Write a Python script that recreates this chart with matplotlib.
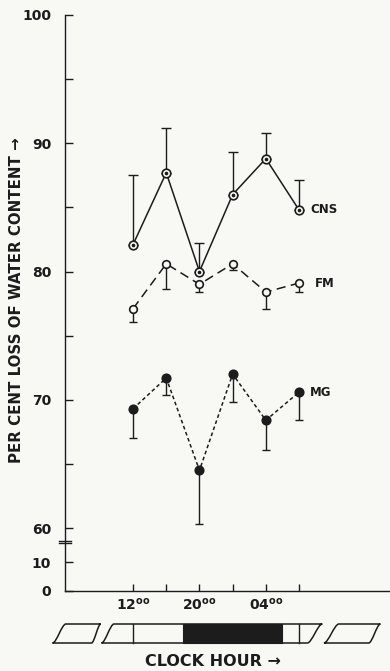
import numpy as np
import matplotlib
matplotlib.use("Agg")
import matplotlib.pyplot as plt
from matplotlib.path import Path
from matplotlib.patches import PathPatch, Rectangle

# ---------------- data ----------------
hours = [12, 16, 20, 24, 28, 32]          # clock hour (28 = 04:00, 32 = 08:00 next day)
xtick_pos = [12, 16, 20, 24, 28, 32]
xtick_labels = ["12$^{\\mathbf{oo}}$", "", "20$^{\\mathbf{oo}}$", "", "04$^{\\mathbf{oo}}$", ""]

cns = [82.1, 87.7, 80.0, 86.0, 88.8, 84.8]
cns_err = [5.4, 3.5, 2.2, 3.3, 2.0, 2.3]      # upper only

fm = [77.1, 80.6, 79.0, 80.6, 78.4, 79.1]
fm_err = [1.0, 2.0, 0.6, 0.5, 1.3, 0.7]       # lower only

mg = [69.3, 71.7, 64.5, 72.0, 68.4, 70.6]
mg_err = [2.3, 1.3, 4.2, 2.2, 2.3, 2.2]       # lower only

yticks_major = [0, 10, 60, 70, 80, 90, 100]
yticks_minor = [65, 75, 85, 95]

dark_start, dark_end = 18, 30      # dark period of light/dark bar
exp_marks = [12, 32]               # vertical marks inside the bar

# ---------------- style ----------------
bg = "#f8f8f5"
ink = "#1c1c1c"
plt.rcParams['font.family'] = ['DejaVu Sans']

fig = plt.figure(figsize=(3.9, 6.71), dpi=100)
fig.patch.set_facecolor(bg)
ax = fig.add_axes([65/390, 80/671, 325/390, 576/671])
ax.set_facecolor(bg)

# broken y-axis scale: 0-10 compressed, 10-60 collapsed, 60-100 linear
def fwd(v):
    v = np.asarray(v, float)
    return np.where(v < 10, v * 0.226,
                    np.where(v < 60, 2.26 + (v - 10) * (4.91 - 2.26) / 50, 4.91 + (v - 60)))

def inv(u):
    u = np.asarray(u, float)
    return np.where(u < 2.26, u / 0.226,
                    np.where(u < 4.91, 10 + (u - 2.26) * 50 / (4.91 - 2.26), 60 + (u - 4.91)))

ax.set_yscale('function', functions=(fwd, inv))
ax.set_ylim(0, 100)
ax.set_xlim(3.8, 42.96)

zeros = [0] * len(hours)
lw = 1.1

# CNS
ax.errorbar(hours, cns, yerr=[zeros, cns_err], fmt='none', ecolor=ink,
            elinewidth=1.0, capsize=3.5, capthick=1.0, zorder=2)
ax.plot(hours, cns, '-', color=ink, lw=lw, marker='o', ms=6.2, mfc=bg, mec=ink,
        mew=1.2, zorder=3)
ax.plot(hours, cns, 'o', color=ink, ms=1.6, zorder=4)

# FM
ax.errorbar(hours, fm, yerr=[fm_err, zeros], fmt='none', ecolor=ink,
            elinewidth=1.0, capsize=3.2, capthick=1.0, zorder=2)
ax.plot(hours, fm, color=ink, lw=lw, ls=(0, (6, 3.5)), marker='o', ms=5.5,
        mfc=bg, mec=ink, mew=1.2, zorder=3)

# MG
ax.errorbar(hours, mg, yerr=[mg_err, zeros], fmt='none', ecolor=ink,
            elinewidth=1.0, capsize=3.2, capthick=1.0, zorder=2)
ax.plot(hours, mg, color=ink, lw=lw, ls=(0, (2.4, 1.8)), marker='o', ms=6.3,
        mfc=ink, mec=ink, zorder=3)

# series labels
lab_kw = dict(textcoords='offset points', va='center', ha='left', fontsize=8.5,
              fontweight='bold', color=ink)
ax.annotate('CNS', xy=(hours[-1], cns[-1]), xytext=(8.5, 0), **lab_kw)
ax.annotate('FM', xy=(hours[-1], fm[-1]), xytext=(11.5, 0), **lab_kw)
ax.annotate('MG', xy=(hours[-1], mg[-1]), xytext=(7.5, 0), **lab_kw)

# axes styling
for s in ['top', 'right']:
    ax.spines[s].set_visible(False)
for s in ['left', 'bottom']:
    ax.spines[s].set_linewidth(1.0)
    ax.spines[s].set_color(ink)

ax.set_yticks(yticks_major)
ax.set_yticklabels([str(v) for v in yticks_major])
ax.set_yticks(yticks_minor, minor=True)
ax.tick_params(axis='y', which='both', direction='in', length=6, width=1.0,
               color=ink, pad=10, labelsize=10, labelcolor=ink)
ax.set_xticks(xtick_pos)
ax.set_xticklabels(xtick_labels)
ax.tick_params(axis='x', which='both', direction='in', length=5, width=1.0,
               color=ink, pad=4, labelsize=10, labelcolor=ink)
for t in ax.get_yticklabels() + ax.get_xticklabels():
    t.set_fontweight('bold')

# axis break mark
bt = ax.get_yaxis_transform()
for yv in (37.5, 41.5):
    ax.plot([-0.017, 0.017], [yv, yv], color=ink, lw=1.0, transform=bt, clip_on=False)

# light/dark bar below the axis
xt = ax.get_xaxis_transform()
y0, y1 = (591 - 643) / 576, (591 - 624) / 576

def piece(xlb, xlt, xrt, xrb, fc):
    dl, dr = xlt - xlb, xrt - xrb
    k = 0.3
    verts = [(xlb, y0),
             (xlb + k * dl, y0), (xlt - k * dl, y1), (xlt, y1),
             (xrt, y1),
             (xrt - k * dr, y1), (xrb + k * dr, y0), (xrb, y0),
             (xlb, y0)]
    codes = [Path.MOVETO, Path.CURVE4, Path.CURVE4, Path.CURVE4, Path.LINETO,
             Path.CURVE4, Path.CURVE4, Path.CURVE4, Path.CLOSEPOLY]
    p = PathPatch(Path(verts, codes), facecolor=fc, edgecolor=ink, lw=1.1,
                  transform=xt, clip_on=False, zorder=5)
    ax.add_patch(p)

piece(2.3, 3.9, 8.1, 7.0, bg)
piece(8.2, 9.7, 34.8, 33.0, bg)
piece(35.0, 36.8, 41.8, 40.4, bg)
ax.add_patch(Rectangle((dark_start, y0), dark_end - dark_start, y1 - y0,
                       facecolor=ink, edgecolor=ink, lw=0.8, transform=xt,
                       clip_on=False, zorder=6))
for xm in exp_marks:
    ax.plot([xm, xm], [y0, y1], color=ink, lw=1.0, transform=xt, clip_on=False, zorder=7)

# axis titles
fig.text(213/390, (671 - 662)/671, 'CLOCK HOUR →', ha='center', va='center',
         fontsize=11.5, fontweight='bold', color=ink)
fig.text(17/390, (671 - 300)/671, 'PER CENT LOSS OF WATER CONTENT →', rotation=90,
         ha='center', va='center', fontsize=10.8, fontweight='bold', color=ink)

fig.savefig('out.png', dpi=100, facecolor=bg)
